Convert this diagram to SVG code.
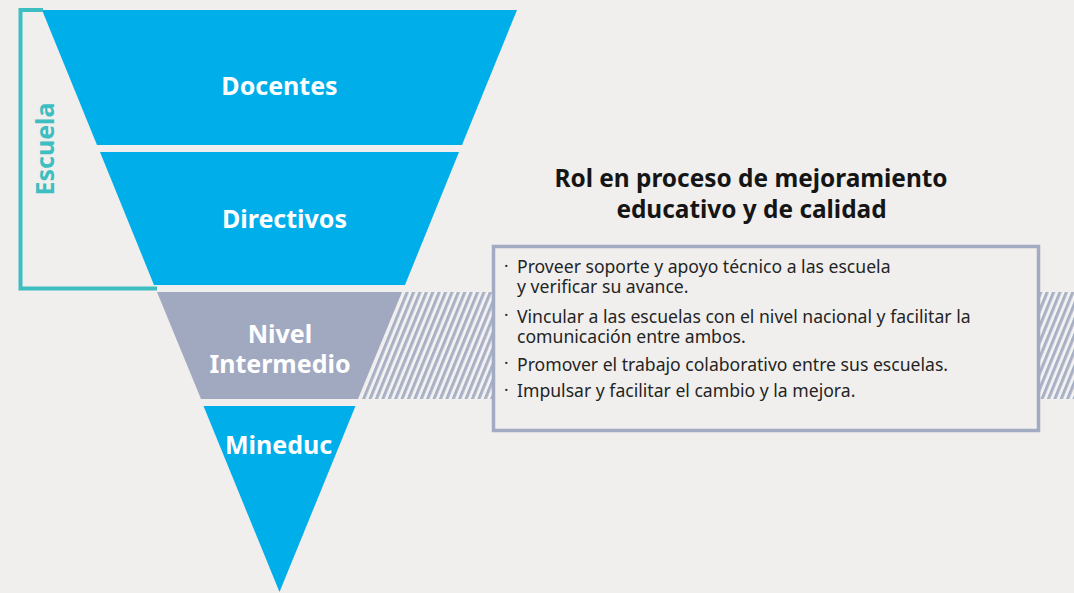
<svg xmlns="http://www.w3.org/2000/svg" width="1074" height="593" viewBox="0 0 1074 593">
  <style>
    .band-blue { fill: #00AEEA; }
    .band-gray { fill: #A1A9C0; }
    .lbl { font-family: "Noto Sans", "Liberation Sans", sans-serif; font-weight: 700; font-size: 25px; fill: #FFFFFF; text-anchor: middle; }
    .title { font-family: "Noto Sans", "Liberation Sans", sans-serif; font-weight: 700; font-size: 24.4px; fill: #151515; text-anchor: middle; }
    .body { font-family: "Noto Sans", "Liberation Sans", sans-serif; font-size: 17.6px; fill: #242424; }
    .dot { font-family: "Noto Sans", "Liberation Sans", sans-serif; font-size: 17px; fill: #242424; }
    .escuela { font-family: "Noto Sans", "Liberation Sans", sans-serif; font-weight: 700; font-size: 25px; fill: #3DBEC0; text-anchor: middle; }
  </style>
  <defs>
    <pattern id="hatch" patternUnits="userSpaceOnUse" width="6.4" height="40" patternTransform="skewX(-22.2)">
      <rect width="6.4" height="40" fill="#F3F2F0"/>
      <rect width="3.3" height="40" fill="#A9B1C7"/>
    </pattern>
  </defs>
  <rect width="1074" height="593" fill="#F0EFED"/>

  <g id="hatch-area">
    <polygon points="405,292 493,292 493,399 361,399" fill="url(#hatch)"/>
    <rect x="1040" y="292" width="34" height="107" fill="url(#hatch)"/>
  </g>

  <g id="docentes">
    <polygon class="band-blue" points="42,10 517,10 462,145 97,145"/>
    <text class="lbl" x="279.5" y="95">Docentes</text>
  </g>
  <g id="directivos">
    <polygon class="band-blue" points="100,152 459,152 405,285 154,285"/>
    <text class="lbl" x="284.5" y="228">Directivos</text>
  </g>
  <g id="nivel-intermedio">
    <polygon class="band-gray" points="157,292 402,292 358,399 201,399"/>
    <text class="lbl" x="280" y="343">Nivel</text>
    <text class="lbl" x="280" y="373">Intermedio</text>
  </g>
  <g id="mineduc">
    <polygon class="band-blue" points="203.5,406 355.5,406 279.5,592"/>
    <text class="lbl" x="278.5" y="454">Mineduc</text>
  </g>

  <g id="escuela">
    <path d="M43,10 H20.5 V288.5 H157" fill="none" stroke="#3DBEC0" stroke-width="4"/>
    <text class="escuela" transform="translate(53.5,149) rotate(-90)">Escuela</text>
  </g>

  <g id="rol-title">
    <text class="title" x="751" y="187">Rol en proceso de mejoramiento</text>
    <text class="title" x="751.5" y="218">educativo y de calidad</text>
  </g>

  <g id="rol-box">
    <rect x="493.5" y="246.5" width="545" height="184" fill="#F0EFED" stroke="#A3ABC2" stroke-width="3.5"/>
    <text class="dot" x="504" y="272">·</text>
    <text class="body" x="517" y="273">Proveer soporte y apoyo técnico a las escuela</text>
    <text class="body" x="517" y="293">y verificar su avance.</text>
    <text class="dot" x="504" y="321">·</text>
    <text class="body" x="517" y="323">Vincular a las escuelas con el nivel nacional y facilitar la</text>
    <text class="body" x="517" y="343">comunicación entre ambos.</text>
    <text class="dot" x="504" y="369">·</text>
    <text class="body" x="517" y="371">Promover el trabajo colaborativo entre sus escuelas.</text>
    <text class="dot" x="504" y="396">·</text>
    <text class="body" x="517" y="397">Impulsar y facilitar el cambio y la mejora.</text>
  </g>
</svg>
